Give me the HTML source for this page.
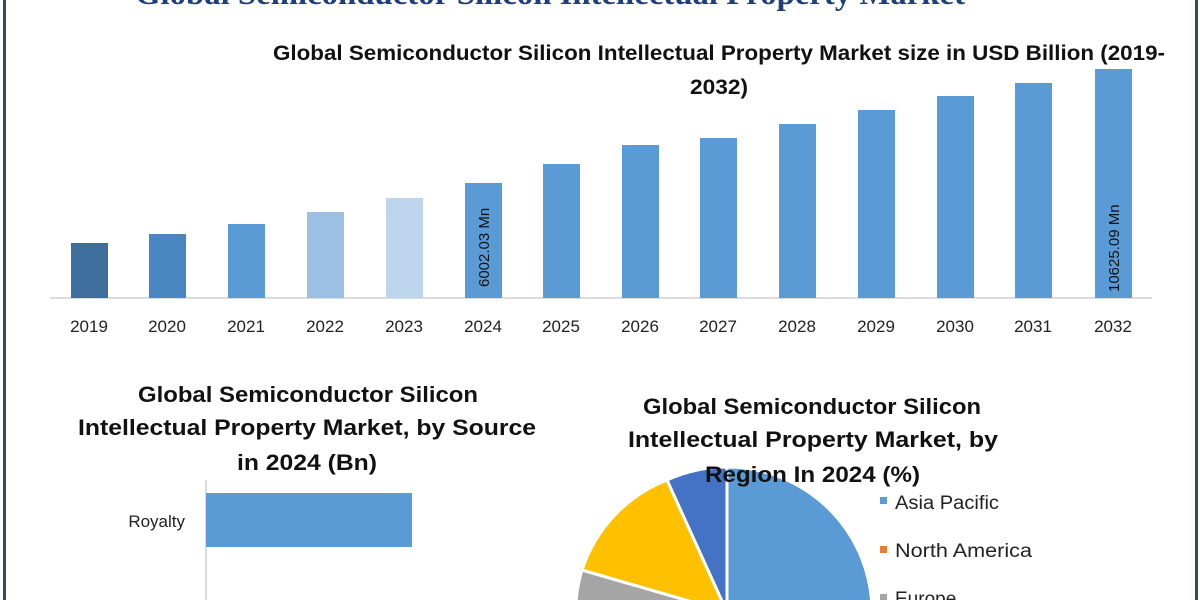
<!DOCTYPE html>
<html><head><style>
html,body{margin:0;padding:0;background:#fff;width:1200px;height:600px;overflow:hidden;}
body{position:relative;font-family:"Liberation Sans",sans-serif;}
svg{display:block;overflow:hidden;}
</style></head><body>
<svg width="1200" height="600" viewBox="0 0 1200 600" style="position:absolute;left:0;top:0" font-family="Liberation Sans, sans-serif">
<rect x="3" y="0" width="3" height="600" fill="#2f4f55"/>
<rect x="1195" y="0" width="3" height="600" fill="#2f4f55"/>
<text x="135" y="4" textLength="830" lengthAdjust="spacingAndGlyphs" font-family="Liberation Serif, serif" font-weight="bold" font-size="32" fill="#1f3f7a">Global Semiconductor Silicon Intellectual Property Market</text>
<text x="273" y="60" textLength="892" lengthAdjust="spacingAndGlyphs" font-weight="bold" font-size="21" fill="#111">Global Semiconductor Silicon Intellectual Property Market size in USD Billion (2019-</text>
<text x="690" y="94" textLength="58" lengthAdjust="spacingAndGlyphs" font-weight="bold" font-size="21" fill="#111">2032)</text>
<line x1="50" y1="298" x2="1152" y2="298" stroke="#d0d0d0" stroke-width="1.5"/>
<g>
<rect x="71" y="243" width="37" height="55" fill="#3d6e9c"/>
<rect x="149" y="234" width="37" height="64" fill="#4a86bf"/>
<rect x="228" y="224" width="37" height="74" fill="#5b9bd5"/>
<rect x="307" y="212" width="37" height="86" fill="#9cc0e4"/>
<rect x="386" y="198" width="37" height="100" fill="#bdd5ed"/>
<rect x="465" y="183" width="37" height="115" fill="#5b9bd5"/>
<rect x="543" y="164" width="37" height="134" fill="#5b9bd5"/>
<rect x="622" y="145" width="37" height="153" fill="#5b9bd5"/>
<rect x="700" y="138" width="37" height="160" fill="#5b9bd5"/>
<rect x="779" y="124" width="37" height="174" fill="#5b9bd5"/>
<rect x="858" y="110" width="37" height="188" fill="#5b9bd5"/>
<rect x="937" y="96" width="37" height="202" fill="#5b9bd5"/>
<rect x="1015" y="83" width="37" height="215" fill="#5b9bd5"/>
<rect x="1095" y="69" width="37" height="229" fill="#5b9bd5"/>
</g>
<text transform="translate(489,287) rotate(-90)" font-size="15" fill="#111">6002.03 Mn</text>
<text transform="translate(1119,292) rotate(-90)" font-size="15" fill="#111">10625.09 Mn</text>
<g font-size="17" fill="#222" text-anchor="middle">
<text x="89" y="332">2019</text><text x="167" y="332">2020</text><text x="246" y="332">2021</text><text x="325" y="332">2022</text><text x="404" y="332">2023</text><text x="483" y="332">2024</text><text x="561" y="332">2025</text><text x="640" y="332">2026</text><text x="718" y="332">2027</text><text x="797" y="332">2028</text><text x="876" y="332">2029</text><text x="955" y="332">2030</text><text x="1033" y="332">2031</text><text x="1113" y="332">2032</text>
</g>
<g font-weight="bold" font-size="22" fill="#111">
<text x="138" y="402" textLength="340" lengthAdjust="spacingAndGlyphs">Global Semiconductor Silicon</text>
<text x="78" y="435" textLength="458" lengthAdjust="spacingAndGlyphs">Intellectual Property Market, by Source</text>
<text x="237" y="470" textLength="140" lengthAdjust="spacingAndGlyphs">in 2024 (Bn)</text>
</g>
<line x1="206" y1="480" x2="206" y2="600" stroke="#d0d0d0" stroke-width="1.5"/>
<rect x="206" y="493" width="206" height="54" fill="#5b9bd5"/>
<text x="185" y="527" text-anchor="end" font-size="17" fill="#222">Royalty</text>
<g stroke="#fff" stroke-width="3">
<path d="M727,612 L727,467 A145,145 0 0 1 727,757 Z" fill="#5b9bd5"/>
<path d="M727,612 L727,757 A145,145 0 0 1 582,570 Z" fill="#a5a5a5"/>
<path d="M727,612 L582,570 A145,145 0 0 1 667,480 Z" fill="#ffc000"/>
<path d="M727,612 L667,480 A145,145 0 0 1 727,467 Z" fill="#4472c4"/>
</g>
<g font-weight="bold" font-size="22" fill="#111">
<text x="643" y="414" textLength="338" lengthAdjust="spacingAndGlyphs">Global Semiconductor Silicon</text>
<text x="628" y="447" textLength="370" lengthAdjust="spacingAndGlyphs">Intellectual Property Market, by</text>
<text x="705" y="482" textLength="215" lengthAdjust="spacingAndGlyphs">Region In 2024 (%)</text>
</g>
<g font-size="19" fill="#222">
<rect x="880" y="497" width="7" height="7" fill="#5b9bd5"/><text x="895" y="509" textLength="104" lengthAdjust="spacingAndGlyphs">Asia Pacific</text>
<rect x="880" y="546" width="7" height="7" fill="#ed7d31"/><text x="895" y="557" textLength="137" lengthAdjust="spacingAndGlyphs">North America</text>
<rect x="880" y="594" width="7" height="7" fill="#a5a5a5"/><text x="895" y="605">Europe</text>
</g>
</svg>
</body></html>
